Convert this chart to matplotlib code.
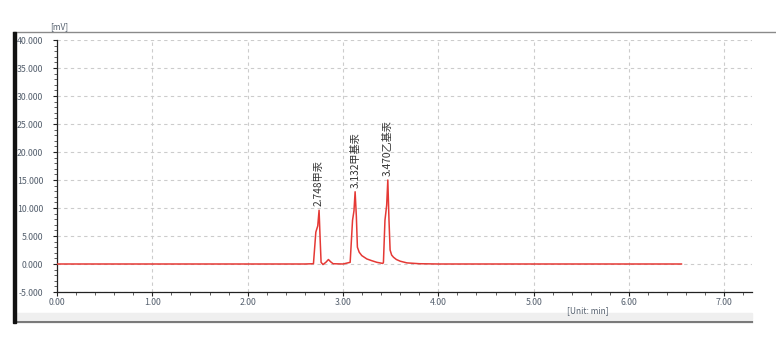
import matplotlib
matplotlib.use('Agg')
import matplotlib.pyplot as plt
from matplotlib.patches import Rectangle
from matplotlib.ticker import MultipleLocator, FormatStrFormatter

plt.rcParams['font.family'] = ['Noto Sans CJK SC', 'DejaVu Sans']

# chromatogram trace (time in min, signal in mV)
time_min = [0.00, 1.00, 2.00, 2.60, 2.69, 2.715, 2.735, 2.749, 2.760, 2.770,
            2.790, 2.820, 2.847, 2.870, 2.896, 3.00, 3.075, 3.100, 3.115, 3.127,
            3.140, 3.151, 3.170, 3.197, 3.250, 3.300, 3.355, 3.418, 3.424, 3.440,
            3.458, 3.470, 3.482, 3.494, 3.510, 3.530, 3.560, 3.600, 3.670, 3.800,
            4.00, 5.00, 6.00, 6.55]
signal_mv = [0.00, 0.00, 0.00, 0.00, 0.05, 5.7, 6.8, 9.6, 4.5, 0.3,
             -0.1, 0.3, 0.8, 0.4, 0.05, 0.00, 0.3, 7.8, 9.5, 12.9,
             8.5, 3.0, 2.1, 1.5, 0.9, 0.6, 0.3, 0.1, 0.3, 7.8,
             10.5, 15.0, 8.0, 2.5, 1.6, 1.2, 0.8, 0.5, 0.2, 0.05,
             0.00, 0.00, 0.00, 0.00]

peak_rt = [2.748, 3.132, 3.470]
peak_height = [9.6, 12.9, 15.0]
peak_names = ['甲汞', '甲基汞', '乙基汞']

fig = plt.figure(figsize=(7.76, 3.37), dpi=100)
W, H = 776, 337

def fx(px):
    return px / W

def fy(py):
    return 1 - py / H

# window frame decorations
fig.patches.append(Rectangle((fx(13), fy(323)), fx(3), fy(32) - fy(323),
                             transform=fig.transFigure, color='#111111', zorder=5))
fig.add_artist(plt.Line2D([fx(13), 1], [fy(32), fy(32)], transform=fig.transFigure,
                          color='#8a8a8a', lw=1.0))
fig.patches.append(Rectangle((fx(16), fy(319)), fx(752) - fx(16), fy(313) - fy(319),
                             transform=fig.transFigure, color='#efefef', zorder=1))
fig.add_artist(plt.Line2D([fx(16), fx(752)], [fy(321.5), fy(321.5)],
                          transform=fig.transFigure, color='#7a7a7a', lw=1.6))

ax = fig.add_axes([fx(57), fy(292), fx(752) - fx(57), fy(40) - fy(292)])
ax.plot(time_min, signal_mv, color='#e53935', lw=1.1, zorder=3)

ax.set_xlim(0, 7.29)
ax.set_ylim(-5, 40)
ax.xaxis.set_major_locator(MultipleLocator(1))
ax.xaxis.set_minor_locator(MultipleLocator(0.2))
ax.yaxis.set_major_locator(MultipleLocator(5))
ax.yaxis.set_minor_locator(MultipleLocator(1))
ax.xaxis.set_major_formatter(FormatStrFormatter('%.2f'))
ax.yaxis.set_major_formatter(FormatStrFormatter('%.3f'))

for s in ['top', 'right']:
    ax.spines[s].set_visible(False)
for s in ['left', 'bottom']:
    ax.spines[s].set_color('#222222')
    ax.spines[s].set_linewidth(0.9)

ax.tick_params(which='major', length=3, width=0.8, color='#222222',
               labelsize=6.3, labelcolor='#55606e')
ax.tick_params(axis='y', which='major', pad=7)
ax.tick_params(axis='x', which='major', pad=1.5)
ax.tick_params(which='minor', length=2, width=0.6, color='#444444')

ax.grid(True, which='major', color='#cccccc', ls=(0, (3, 3)), lw=0.8)
ax.set_axisbelow(True)

for rt, h, name in zip(peak_rt, peak_height, peak_names):
    ax.annotate(f'{rt:.3f}{name}', xy=(rt, h), xytext=(0, 3),
                textcoords='offset points', rotation=90, ha='center', va='bottom',
                fontsize=7.3, color='#333333')

fig.text(fx(50), fy(27), '[mV]', fontsize=6, color='#55606e', va='center', ha='left')
fig.text(fx(588), fy(311), '[Unit: min]', fontsize=6, color='#55606e',
         va='center', ha='center')

fig.savefig('out.png', dpi=100)
